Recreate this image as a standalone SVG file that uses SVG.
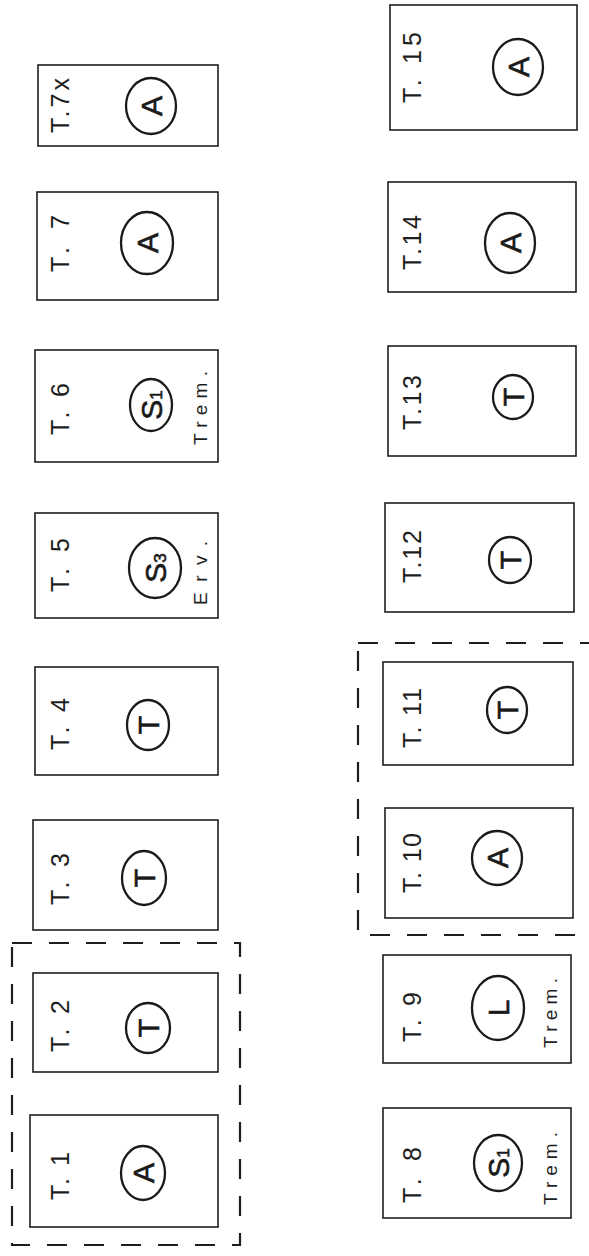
<svg xmlns="http://www.w3.org/2000/svg" width="589" height="1256" viewBox="0 0 589 1256">
<style>
.bg{fill:#fff}
.box{fill:none;stroke:#1e1e1e;stroke-width:1.6}
.grp{fill:none;stroke:#1e1e1e;stroke-width:2.2;stroke-dasharray:20 17}
.ring{fill:none;stroke:#1a1a1a;stroke-width:2.3}
.lbl{font-family:"Liberation Sans",Arial,sans-serif;font-size:25px;fill:#1e1e1e}
.sym{font-family:"Liberation Sans",Arial,sans-serif;font-size:30px;fill:#1a1a1a;text-anchor:middle;dominant-baseline:central;stroke:#1a1a1a;stroke-width:0.6}
.sub{font-size:17px}
.note{font-family:"Liberation Sans",Arial,sans-serif;font-size:19px;fill:#1e1e1e}
</style>
<rect class="bg" x="0" y="0" width="589" height="1256"/>
<g id="groups">
<rect class="grp" x="12" y="943" width="228" height="302"/>
<rect class="grp" x="358" y="643" width="240" height="292"/>
</g>
<g id="connectors"></g>
<g id="t1"><rect class="box" x="30" y="1115" width="188" height="112"/><text class="lbl" transform="translate(69,1200) rotate(-90)" textLength="48" lengthAdjust="spacing">T. 1</text><ellipse class="ring" cx="143" cy="1173" rx="22" ry="27"/><text class="sym" transform="translate(143,1173) rotate(-90)">A</text></g>
<g id="t2"><rect class="box" x="33" y="973" width="185" height="99"/><text class="lbl" transform="translate(69,1052) rotate(-90)" textLength="52" lengthAdjust="spacing">T. 2</text><ellipse class="ring" cx="148" cy="1028" rx="22" ry="25"/><text class="sym" transform="translate(148,1028) rotate(-90)">T</text></g>
<g id="t3"><rect class="box" x="33" y="820" width="185" height="110"/><text class="lbl" transform="translate(69,905) rotate(-90)" textLength="52" lengthAdjust="spacing">T. 3</text><ellipse class="ring" cx="144" cy="878" rx="22" ry="27"/><text class="sym" transform="translate(144,878) rotate(-90)">T</text></g>
<g id="t4"><rect class="box" x="35" y="667" width="183" height="108"/><text class="lbl" transform="translate(69,750) rotate(-90)" textLength="52" lengthAdjust="spacing">T. 4</text><ellipse class="ring" cx="148" cy="725" rx="21" ry="25"/><text class="sym" transform="translate(148,725) rotate(-90)">T</text></g>
<g id="t5"><rect class="box" x="35" y="513" width="183" height="105"/><text class="lbl" transform="translate(69,592) rotate(-90)" textLength="54" lengthAdjust="spacing">T. 5</text><ellipse class="ring" cx="155" cy="568" rx="26" ry="30"/><text class="sym" transform="translate(155,568) rotate(-90)">S<tspan class="sub" dy="5">3</tspan></text><text class="note" transform="translate(207,605) rotate(-90)" textLength="64" lengthAdjust="spacing">Erv.</text></g>
<g id="t6"><rect class="box" x="35" y="350" width="183" height="112"/><text class="lbl" transform="translate(69,435) rotate(-90)" textLength="52" lengthAdjust="spacing">T. 6</text><ellipse class="ring" cx="151" cy="405" rx="21" ry="26"/><text class="sym" transform="translate(151,405) rotate(-90)">S<tspan class="sub" dy="5">1</tspan></text><text class="note" transform="translate(207,445) rotate(-90)" textLength="74" lengthAdjust="spacing">Trem.</text></g>
<g id="t7"><rect class="box" x="37" y="192" width="181" height="108"/><text class="lbl" transform="translate(69,272) rotate(-90)" textLength="57" lengthAdjust="spacing">T. 7</text><ellipse class="ring" cx="147" cy="243" rx="26" ry="31"/><text class="sym" transform="translate(147,243) rotate(-90)">A</text></g>
<g id="t7x"><rect class="box" x="38" y="65" width="180" height="81"/><text class="lbl" transform="translate(69,133) rotate(-90)" textLength="55" lengthAdjust="spacing">T.7x</text><ellipse class="ring" cx="151" cy="106" rx="25" ry="28"/><text class="sym" transform="translate(151,106) rotate(-90)">A</text></g>
<g id="t8"><rect class="box" x="383" y="1108" width="188" height="110"/><text class="lbl" transform="translate(421,1203) rotate(-90)" textLength="56" lengthAdjust="spacing">T. 8</text><ellipse class="ring" cx="498" cy="1163" rx="24" ry="28"/><text class="sym" transform="translate(498,1163) rotate(-90)">S<tspan class="sub" dy="5">1</tspan></text><text class="note" transform="translate(557,1205) rotate(-90)" textLength="73" lengthAdjust="spacing">Trem.</text></g>
<g id="t9"><rect class="box" x="383" y="955" width="188" height="108"/><text class="lbl" transform="translate(421,1042) rotate(-90)" textLength="50" lengthAdjust="spacing">T. 9</text><ellipse class="ring" cx="498" cy="1008" rx="26" ry="32"/><text class="sym" transform="translate(498,1008) rotate(-90)">L</text><text class="note" transform="translate(557,1048) rotate(-90)" textLength="70" lengthAdjust="spacing">Trem.</text></g>
<g id="t10"><rect class="box" x="385" y="808" width="188" height="110"/><text class="lbl" transform="translate(421,893) rotate(-90)" textLength="60" lengthAdjust="spacing">T. 10</text><ellipse class="ring" cx="497" cy="858" rx="25" ry="27"/><text class="sym" transform="translate(497,858) rotate(-90)">A</text></g>
<g id="t11"><rect class="box" x="383" y="662" width="190" height="103"/><text class="lbl" transform="translate(421,748) rotate(-90)" textLength="60" lengthAdjust="spacing">T. 11</text><ellipse class="ring" cx="507" cy="710" rx="20" ry="23"/><text class="sym" transform="translate(507,710) rotate(-90)">T</text></g>
<g id="t12"><rect class="box" x="385" y="503" width="189" height="109"/><text class="lbl" transform="translate(421,583) rotate(-90)" textLength="53" lengthAdjust="spacing">T.12</text><ellipse class="ring" cx="510" cy="560" rx="21" ry="23"/><text class="sym" transform="translate(510,560) rotate(-90)">T</text></g>
<g id="t13"><rect class="box" x="388" y="346" width="188" height="110"/><text class="lbl" transform="translate(421,430) rotate(-90)" textLength="55" lengthAdjust="spacing">T.13</text><ellipse class="ring" cx="513" cy="397" rx="20" ry="22"/><text class="sym" transform="translate(513,397) rotate(-90)">T</text></g>
<g id="t14"><rect class="box" x="388" y="182" width="188" height="110"/><text class="lbl" transform="translate(421,270) rotate(-90)" textLength="55" lengthAdjust="spacing">T.14</text><ellipse class="ring" cx="510" cy="243" rx="25" ry="30"/><text class="sym" transform="translate(510,243) rotate(-90)">A</text></g>
<g id="t15"><rect class="box" x="390" y="5" width="187" height="125"/><text class="lbl" transform="translate(421,103) rotate(-90)" textLength="71" lengthAdjust="spacing">T. 15</text><ellipse class="ring" cx="518" cy="67" rx="25" ry="28"/><text class="sym" transform="translate(518,67) rotate(-90)">A</text></g>
</svg>
